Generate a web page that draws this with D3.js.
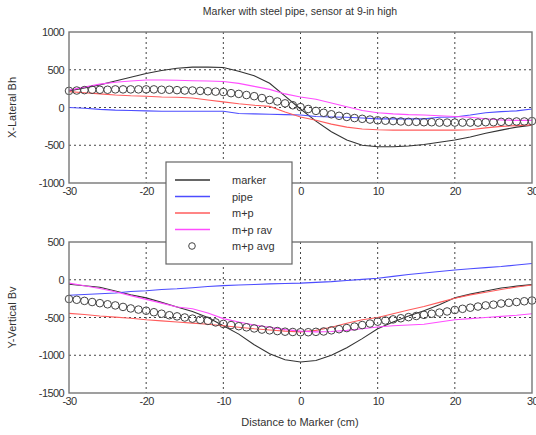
<!DOCTYPE html>
<html><head><meta charset="utf-8">
<script src="https://cdn.jsdelivr.net/npm/d3@7"></script>
<style>
body{margin:0;background:#fff;}
text{font-family:Arial,"Liberation Sans",sans-serif;fill:#333;}
</style></head>
<body><svg id="c" width="536" height="435"></svg>
<script>
// ---------- data ----------
const title = "Marker with steel pipe, sensor at 9-in high";
const xLabel = "Distance to Marker (cm)";
const topYLabel = "X-Lateral Bh";
const botYLabel = "Y-Vertical Bv";
const xTicks = [-30,-20,-10,0,10,20,30];
const topYTicks = [-1000,-500,0,500,1000];
const botYTicks = [-1500,-1000,-500,0,500];
const seriesNames = ["marker","pipe","m+p","m+p rav","m+p avg"];

// line sample positions (cm)
const xLine = [-30,-28,-26,-24,-22,-20,-18,-16,-14,-12,-10,-8,-6,-4,-2,0,2,4,6,8,10,12,14,16,18,20,22,24,26,28,30];
// circle sample positions (cm)
const xAvg = [-30,-29,-28,-27,-26,-25,-24,-23,-22,-21,-20,-19,-18,-17,-16,-15,-14,-13,-12,-11,-10,-9,-8,-7,-6,-5,-4,-3,-2,-1,0,1,2,3,4,5,6,7,8,9,10,11,12,13,14,15,16,17,18,19,20,21,22,23,24,25,26,27,28,29,30];

// Top: X-Lateral Bh
const topMarker = [220,260,300,350,400,450,490,520,535,535,530,480,420,320,150,-20,-180,-320,-430,-500,-520,-520,-510,-490,-460,-430,-390,-340,-300,-260,-235];
const topPipe   = [0,-10,-25,-35,-40,-45,-50,-50,-50,-50,-50,-80,-85,-90,-95,-100,-120,-125,-130,-140,-150,-150,-150,-150,-130,-125,-100,-70,-55,-45,-20];
const topMP     = [210,195,180,165,155,150,140,135,125,100,75,50,30,15,-60,-125,-170,-220,-260,-285,-295,-300,-300,-300,-300,-300,-295,-270,-250,-240,-230];
const topRav    = [230,270,310,335,350,365,365,360,355,350,345,320,280,240,180,140,110,60,10,-40,-70,-85,-95,-100,-110,-120,-130,-150,-165,-170,-170];
const topAvg    = [220,225,230,235,235,235,240,240,240,240,240,240,235,235,230,225,225,220,215,210,205,190,180,165,150,125,100,80,55,30,5,-20,-45,-70,-90,-110,-125,-140,-150,-160,-170,-175,-180,-185,-190,-190,-195,-195,-200,-200,-200,-200,-200,-200,-195,-195,-190,-190,-185,-185,-180];

// Bottom: Y-Vertical Bv
const botMarker = [-60,-80,-100,-150,-200,-240,-300,-360,-420,-500,-610,-720,-860,-980,-1060,-1090,-1070,-1000,-900,-780,-650,-560,-480,-410,-330,-240,-190,-150,-110,-85,-65];
const botPipe   = [-205,-195,-185,-175,-155,-145,-130,-120,-105,-90,-78,-70,-62,-55,-50,-45,-35,-25,-10,5,20,45,70,90,110,130,145,160,175,195,215];
const botMP     = [-445,-460,-480,-495,-510,-530,-545,-560,-575,-590,-610,-630,-650,-665,-680,-690,-670,-630,-575,-530,-500,-450,-400,-355,-300,-245,-200,-165,-130,-95,-70];
const botRav    = [-45,-80,-115,-160,-210,-260,-310,-360,-385,-440,-515,-560,-600,-630,-660,-680,-690,-685,-670,-650,-625,-610,-600,-590,-560,-530,-515,-500,-485,-470,-450];
const botAvg    = [-255,-265,-280,-295,-310,-325,-340,-360,-380,-395,-410,-430,-450,-470,-485,-500,-515,-530,-545,-565,-585,-600,-615,-630,-645,-660,-670,-680,-688,-692,-695,-695,-690,-685,-670,-655,-640,-620,-600,-580,-555,-540,-525,-510,-495,-480,-465,-450,-435,-420,-400,-385,-370,-355,-340,-330,-315,-305,-295,-285,-275];

const colors = ["#333333","#4d4dff","#ff5c5c","#ff4dff","#444444"];

// ---------- drawing ----------
const svg = d3.select("#c");
const L = 69, R = 532;
const x = d3.scaleLinear().domain([-30,30]).range([L,R]);
const fmt = d => String(d);

function panel(top, bottom, yDomain, yTicks, yLab, series, avg){
  const y = d3.scaleLinear().domain(yDomain).range([bottom, top]);
  const g = svg.append("g");
  // grid
  g.append("g").selectAll("line").data(xTicks.slice(1,-1)).join("line")
    .attr("x1",d=>x(d)).attr("x2",d=>x(d)).attr("y1",top).attr("y2",bottom)
    .attr("stroke","#444").attr("stroke-width",1).attr("stroke-dasharray","2,3");
  g.append("g").selectAll("line").data(yTicks.slice(1,-1)).join("line")
    .attr("x1",L).attr("x2",R).attr("y1",d=>y(d)).attr("y2",d=>y(d))
    .attr("stroke","#444").attr("stroke-width",1).attr("stroke-dasharray","2,3");
  // lines
  const line = d3.line().x((d,i)=>x(xLine[i])).y(d=>y(d));
  series.forEach((s,i)=>{
    g.append("path").attr("d",line(s)).attr("fill","none")
      .attr("stroke",colors[i]).attr("stroke-width",1.1);
  });
  // circles
  g.append("g").selectAll("circle").data(avg).join("circle")
    .attr("cx",(d,i)=>x(xAvg[i])).attr("cy",d=>y(d)).attr("r",3.8)
    .attr("fill","none").attr("stroke",colors[4]).attr("stroke-width",1);
  // box
  g.append("rect").attr("x",L).attr("y",top).attr("width",R-L).attr("height",bottom-top)
    .attr("fill","none").attr("stroke","#777").attr("stroke-width",1.4);
  // axes
  const ya = d3.axisLeft(y).tickValues(yTicks).tickFormat(fmt).tickSize(0).tickPadding(5);
  const yg = g.append("g").attr("transform",`translate(${L},0)`).call(ya);
  yg.select(".domain").remove();
  yg.selectAll("text").style("font-size","11px").attr("fill","#333").style("letter-spacing","-0.6px");
  const xa = d3.axisBottom(x).tickValues(xTicks).tickFormat(fmt).tickSize(0).tickPadding(4);
  const xg = g.append("g").attr("transform",`translate(0,${bottom})`).call(xa);
  xg.select(".domain").remove();
  xg.selectAll("text").style("font-size","11px").attr("fill","#333").style("letter-spacing","-0.6px");
  // y label
  g.append("text").attr("transform",`translate(16,${(top+bottom)/2}) rotate(-90)`)
    .attr("text-anchor","middle").style("font-size","11px").text(yLab);
  return y;
}

panel(32,183,[-1000,1000],topYTicks,topYLabel,[topMarker,topPipe,topMP,topRav],topAvg);
panel(242,393,[-1500,500],botYTicks,botYLabel,[botMarker,botPipe,botMP,botRav],botAvg);

svg.append("text").attr("x",300).attr("y",15).attr("text-anchor","middle")
  .style("font-size","10.5px").text(title);
svg.append("text").attr("x",300).attr("y",426).attr("text-anchor","middle")
  .style("font-size","11px").text(xLabel);

// legend
const lg = svg.append("g");
lg.append("rect").attr("x",166).attr("y",162).attr("width",126).attr("height",102)
  .attr("fill","#fff").attr("stroke","#666").attr("stroke-width",1.2);
const ly = d3.scalePoint().domain(seriesNames).range([180,246]);
seriesNames.forEach((n,i)=>{
  if(i<4){
    lg.append("line").attr("x1",175).attr("x2",210).attr("y1",ly(n)).attr("y2",ly(n))
      .attr("stroke",colors[i]).attr("stroke-width",1.6);
  } else {
    lg.append("circle").attr("cx",192).attr("cy",ly(n)).attr("r",3.3)
      .attr("fill","none").attr("stroke",colors[4]).attr("stroke-width",1);
  }
  lg.append("text").attr("x",232).attr("y",ly(n)+4).style("font-size","11px").text(n);
});
</script></body></html>
